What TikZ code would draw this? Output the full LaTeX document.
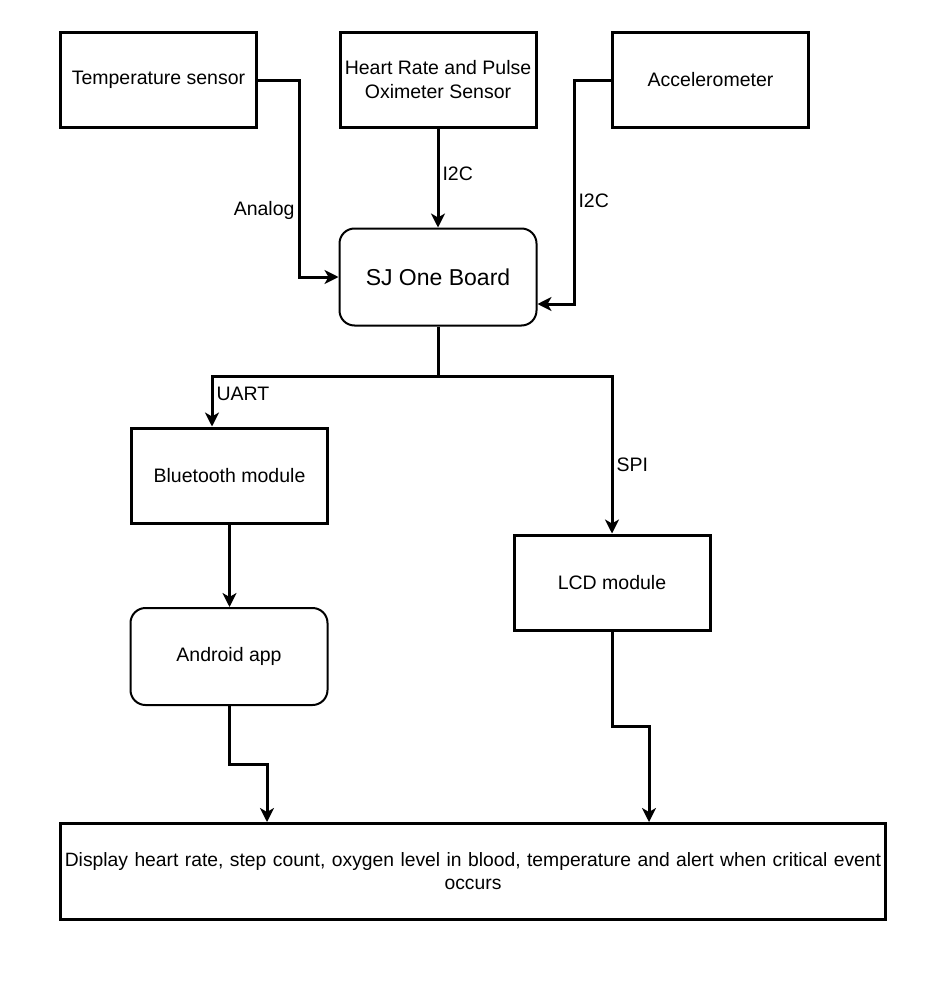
\documentclass[tikz,border=0pt]{standalone}
\usepackage{fontspec}
\setmainfont{Liberation Sans}
\usetikzlibrary{arrows.meta}

\begin{document}
\begin{tikzpicture}[
  x=1pt, y=-1pt,
  box/.style={rectangle, draw=black, line width=3pt, fill=white,
              minimum width=196pt, minimum height=95pt, align=center,
              font=\fontsize{19.5}{24}\selectfont},
  rbox/.style={box, rounded corners=15pt, line width=2pt, minimum width=197pt, minimum height=97pt},
  lbl/.style={font=\fontsize{19.5}{24}\selectfont, inner sep=3pt},
  arr/.style={-{Stealth[length=14pt, width=14pt, inset=4pt]}, line width=3pt}]
  \useasboundingbox (0,0) rectangle (944,982);
  \node[box] (temp) at (158.5,80) {Temperature sensor};
  \node[box] (heart) at (438,80) {Heart Rate and Pulse\\ Oximeter Sensor};
  \node[box] (acc) at (710.5,80) {Accelerometer};
  \node[rbox, font=\fontsize{23}{28}\selectfont] (sj) at (438,277) {SJ One Board};
  \node[box] (bt) at (229.5,475.5) {Bluetooth module};
  \node[box] (lcd) at (612,582.5) {LCD module};
  \node[rbox] (app) at (229,656.5) {Android app};
  \node[box, minimum width=825pt, minimum height=96pt, text width=818pt, inner sep=0pt,
        font=\fontsize{19.3}{24}\selectfont] (disp) at (473,871.5)
    {Display heart rate, step count, oxygen level in blood, temperature and alert when critical event\\[-1pt] occurs\\[22pt]};
  \draw[arr] (temp.east) -- ++(41,0) |- node[lbl, left, pos=0.33] {Analog} (sj.west);
  \draw[arr] (heart.south) -- node[lbl, right, pos=0.45] {I2C} (sj.north);
  \draw[arr] (acc.west) -- ++(-37,0) |- node[lbl, right, pos=0.27] {I2C} ([yshift=-27pt]sj.east);
  \draw[line width=3pt] (sj.south) -- ++(0,50) coordinate (split);
  \draw[arr] (split) -| node[lbl, right, pos=0.67] {UART} ([xshift=-17.5pt]bt.north);
  \draw[arr] (split) -| node[lbl, right, pos=0.78] {SPI} (lcd.north);
  \draw[arr] (bt.south) -- (bt.south |- app.north);
  \draw[arr] (app.south) -- ++(0,58) -| ([xshift=-206pt]disp.north);
  \draw[arr] (lcd.south) -- ++(0,95) -| ([xshift=176pt]disp.north);
\end{tikzpicture}
\end{document}
